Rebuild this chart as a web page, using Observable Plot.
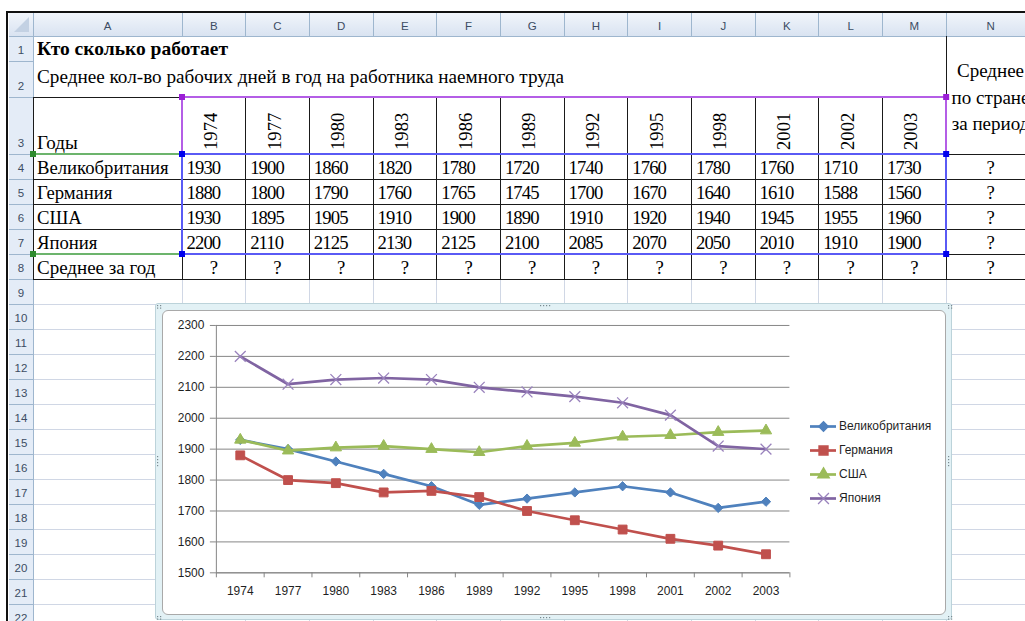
<!DOCTYPE html>
<html><head><meta charset="utf-8">
<script src="https://cdn.jsdelivr.net/npm/d3@7"></script>
<script src="https://cdn.jsdelivr.net/npm/@observablehq/plot@0.6"></script>
<style>
html,body{margin:0;padding:0;background:#fff;}
body{width:1025px;height:621px;overflow:hidden;position:relative;}
#sheet{position:absolute;left:0;top:0;width:1025px;height:621px;}
#chartOuter{position:absolute;left:155px;top:303px;width:797px;height:317px;box-sizing:border-box;background:#e2f1f5;border:1px solid #bcd3da;border-radius:3px;}
#handles{position:absolute;left:0;top:0;width:1025px;height:621px;pointer-events:none;}
#chartInner{position:absolute;left:162px;top:310px;width:784px;height:305px;box-sizing:border-box;background:#fff;border:1px solid #a9a9a9;border-radius:6px;overflow:hidden;}
#chartInner svg{position:absolute;left:0;top:0;}
#legend{position:absolute;left:808px;top:414px;}
</style></head>
<body>
<div id="sheet"></div>
<div id="chartOuter"></div>
<div id="handles"></div>
<div id="chartInner"></div>
<div id="legend"></div>
<script>
// ---------- data ----------
const title = "Кто сколько работает";
const subtitle = "Среднее кол-во рабочих дней в год на работника наемного труда";
const yearHeader = "Годы";
const avgRowLabel = "Среднее за год";
const avgColLabel = ["Среднее", "по стране", "за период"];
const unknown = "?";
const colLetters = ["A","B","C","D","E","F","G","H","I","J","K","L","M","N"];
const years = ["1974","1977","1980","1983","1986","1989","1992","1995","1998","2001","2002","2003"];
const countries = ["Великобритания","Германия","США","Япония"];
const uk      = [1930,1900,1860,1820,1780,1720,1740,1760,1780,1760,1710,1730];
const germany = [1880,1800,1790,1760,1765,1745,1700,1670,1640,1610,1588,1560];
const usa     = [1930,1895,1905,1910,1900,1890,1910,1920,1940,1945,1955,1960];
const japan   = [2200,2110,2125,2130,2125,2100,2085,2070,2050,2010,1910,1900];
const yTicks  = [1500,1600,1700,1800,1900,2000,2100,2200,2300];
const seriesColors = ["#4f81bd","#c0504d","#9bbb59","#8064a2"];
const seriesSymbols = ["diamond2","square","triangle","times"];

const series = [uk, germany, usa, japan];
const rows = countries.flatMap((c, ci) => years.map((y, i) => ({country: c, ci, i, year: y, value: series[ci][i]})));

// ---------- spreadsheet ----------
const W = 1025, H = 621;
const colEdges = [33, 182];
for (let k = 1; k <= 12; k++) colEdges.push(182 + 63.68 * k);
colEdges.push(1035);
const rowTop = r => r === 1 ? 36 : r === 2 ? 61 : r === 3 ? 97 : 154 + 25 * (r - 4);
const rowBot = r => rowTop(r + 1);

const svg = d3.select("#sheet").append("svg").attr("width", W).attr("height", H);
const defs = svg.append("defs");
const g1 = defs.append("linearGradient").attr("id","hdr").attr("x1",0).attr("y1",0).attr("x2",0).attr("y2",1);
g1.append("stop").attr("offset","0").attr("stop-color","#f1f5fb");
g1.append("stop").attr("offset","1").attr("stop-color","#d9e3f1");

function line(x1, y1, x2, y2, color, w = 1) {
  svg.append("line").attr("x1", x1).attr("y1", y1).attr("x2", x2).attr("y2", y2)
    .attr("stroke", color).attr("stroke-width", w).attr("shape-rendering", "crispEdges");
}
function text(str, x, y, opts = {}) {
  const t = svg.append("text").attr("x", x).attr("y", y).text(str)
    .attr("font-family", opts.family || '"Liberation Serif","Times New Roman",serif')
    .attr("font-size", opts.size || 18.7)
    .attr("fill", opts.fill || "#000")
    .attr("text-anchor", opts.anchor || "start");
  if (opts.weight) t.attr("font-weight", opts.weight);
  if (opts.spacing) t.attr("letter-spacing", opts.spacing);
  if (opts.transform) t.attr("transform", opts.transform);
  return t;
}

// header backgrounds
svg.append("rect").attr("x", 9).attr("y", 13).attr("width", W - 9).attr("height", 23).attr("fill", "url(#hdr)");
svg.append("rect").attr("x", 9).attr("y", 36).attr("width", 24).attr("height", H - 36).attr("fill", "#e4ecf7");
svg.append("path").attr("d", "M29,17 L29,32 L14,32 Z").attr("fill", "#c3d1e3");

// light gridlines (row 9 and below)
for (let r = 10; r <= 23; r++) line(33, rowTop(r), W, rowTop(r), "#d0d7e5");
for (let k = 1; k < colEdges.length; k++) line(colEdges[k], rowTop(9), colEdges[k], H, "#d0d7e5");

// header separators
for (let k = 0; k < colEdges.length; k++) line(colEdges[k], 13, colEdges[k], 36, "#9eb6ce");
line(9, 36, W, 36, "#9eb6ce");
for (let r = 2; r <= 23; r++) line(9, rowTop(r), 33, rowTop(r), "#9eb6ce");
line(33, 13, 33, H, "#9eb6ce");

// header labels
colLetters.forEach((c, k) => text(c, (colEdges[k] + colEdges[k + 1]) / 2, 29.5,
  {family: '"Liberation Sans",Arial,sans-serif', size: 11.5, fill: "#3c4c63", anchor: "middle"}));
for (let r = 1; r <= 22; r++) text(String(r), 21, rowBot(r) - 7,
  {family: '"Liberation Sans",Arial,sans-serif', size: 11.5, fill: "#3c4c63", anchor: "middle"});

// table borders
const blk = "#1a1a1a";
line(33, rowTop(3), colEdges[13], rowTop(3), blk);
for (let r = 4; r <= 9; r++) line(33, rowTop(r), W, rowTop(r), blk);
line(33, rowTop(3), 33, rowTop(9), blk);
for (let k = 2; k <= 12; k++) line(colEdges[k], rowTop(3), colEdges[k], rowTop(9), blk);
line(colEdges[1], rowTop(3), colEdges[1], rowTop(9), blk);
line(colEdges[13], 36, colEdges[13], rowTop(9), blk);

// chart-range highlights
const purple = "#b45ee6", blue = "#5a5af5", green = "#6cb46c";
line(colEdges[1], rowTop(3), colEdges[13], rowTop(3), purple, 1.5);
line(colEdges[1], rowTop(3), colEdges[1], rowTop(4), purple, 1.5);
line(colEdges[13], rowTop(3), colEdges[13], rowTop(4), purple, 1.5);
line(colEdges[1], rowTop(4), colEdges[13], rowTop(4), blue, 1.5);
line(colEdges[1], rowTop(8), colEdges[13], rowTop(8), blue, 1.5);
line(colEdges[1], rowTop(4), colEdges[1], rowTop(8), blue, 1.5);
line(colEdges[13], rowTop(4), colEdges[13], rowTop(8), blue, 1.5);
line(33, rowTop(4), colEdges[1], rowTop(4), green, 1.5);
line(33, rowTop(8), colEdges[1], rowTop(8), green, 1.5);
function handle(x, y, c) { svg.append("rect").attr("x", x - 3).attr("y", y - 3).attr("width", 6).attr("height", 6).attr("fill", c); }
handle(colEdges[1], rowTop(3), "#9b1fd6"); handle(colEdges[13], rowTop(3), "#9b1fd6");
handle(colEdges[1], rowTop(4), "#0000ee"); handle(colEdges[13], rowTop(4), "#0000ee");
handle(colEdges[1], rowTop(8), "#0000ee"); handle(colEdges[13], rowTop(8), "#0000ee");
handle(33, rowTop(4), "#2e8b2e"); handle(33, rowTop(8), "#2e8b2e");

// screenshot frame
line(6, 12, W, 12, "#111", 2);
line(7, 12, 7, H, "#111", 2);

// cell texts
text(title, 37, 55, {weight: "bold", size: 19.5});
text(subtitle, 37, 82.5, {size: 19.2});
text(yearHeader, 37, 149, {size: 19});
years.forEach((y, i) => text(y, colEdges[i + 1] + 35, 150, {transform: `rotate(-90 ${colEdges[i + 1] + 35} 150)`}));
avgColLabel.forEach((s, j) => text(s, 990.5, 77 + 26.5 * j, {anchor: "middle", size: 19}));
countries.forEach((c, ci) => {
  const yb = rowBot(4 + ci) - 5.5;
  text(c, 37, yb);
  series[ci].forEach((v, i) => text(String(v), colEdges[i + 1] + 4.5, yb, {spacing: -0.9}));
  text(unknown, (colEdges[13] + colEdges[14]) / 2, yb, {anchor: "middle"});
});
text(avgRowLabel, 37, rowBot(8) - 5.5, {size: 19});
for (let k = 1; k <= 13; k++) text(unknown, (colEdges[k] + colEdges[k + 1]) / 2, rowBot(8) - 5.5, {anchor: "middle"});

// chart frame grip dots
const hs = d3.select("#handles").append("svg").attr("width", W).attr("height", H);
function dots(x0, y0, dx, dy, n) {
  for (let k = 0; k < n; k++) hs.append("rect").attr("x", x0 + dx * k).attr("y", y0 + dy * k).attr("width", 1.2).attr("height", 1.2).attr("fill", "#7a8a90");
}
dots(540, 305, 3, 0, 4); dots(540, 617, 3, 0, 4);
dots(157, 456, 0, 3, 4); dots(948, 456, 0, 3, 4);
[[157, 305], [948, 305], [157, 616], [948, 616]].forEach(([x, y]) => { dots(x, y, 3, 0, 2); dots(x, y + 2.5, 3, 0, 2); });

// ---------- chart ----------
const font = '"Liberation Sans",Arial,sans-serif';
const chartMarks = [
  Plot.gridY(yTicks, {stroke: "#868686", strokeOpacity: 1}),
  Plot.ruleX([-0.5], {stroke: "#868686"}),
  Plot.ruleY([1500], {stroke: "#868686"}),
  Plot.axisY(yTicks, {tickSize: 6, tickPadding: 6, tickFormat: d => String(d), label: null, stroke: "#868686", fill: "#1f1f1f"}),
  Plot.axisX(d3.range(years.length + 1).map(i => i - 0.5), {tickSize: 5, tickFormat: () => "", label: null, stroke: "#868686"}),
  Plot.axisX(d3.range(years.length), {tickSize: 0, tickPadding: 14, tickFormat: i => years[i], label: null, fill: "#1f1f1f"})
];
countries.forEach((c, ci) => {
  const d = rows.filter(r => r.ci === ci);
  chartMarks.push(Plot.line(d, {x: "i", y: "value", stroke: seriesColors[ci], strokeWidth: 2.7}));
  if (seriesSymbols[ci] === "times")
    chartMarks.push(Plot.dot(d, {x: "i", y: "value", symbol: seriesSymbols[ci], r: 5, stroke: "#9a83bd", strokeWidth: 1.3, fill: "none"}));
  else
    chartMarks.push(Plot.dot(d, {x: "i", y: "value", symbol: seriesSymbols[ci], r: seriesSymbols[ci] === "square" ? 5 : 4.2, fill: seriesColors[ci], stroke: seriesColors[ci], strokeWidth: 1}));
});
const chart = Plot.plot({
  width: 784, height: 304,
  marginLeft: 53, marginRight: 156, marginTop: 14, marginBottom: 42,
  style: {fontFamily: font, fontSize: "12px", background: "transparent", color: "#1f1f1f"},
  x: {domain: [-0.5, years.length - 0.5]},
  y: {domain: [1500, 2300]},
  marks: chartMarks
});
document.getElementById("chartInner").appendChild(chart);

// legend
const legMarks = [
  Plot.ruleY(countries, {y: d => d, x1: 2, x2: 28, stroke: d => seriesColors[countries.indexOf(d)], strokeWidth: 2.7})
];
countries.forEach((c, ci) => {
  if (seriesSymbols[ci] === "times")
    legMarks.push(Plot.dot([c], {x: 15, y: d => d, symbol: seriesSymbols[ci], r: 5, stroke: "#9a83bd", strokeWidth: 1.3, fill: "none"}));
  else
    legMarks.push(Plot.dot([c], {x: 15, y: d => d, symbol: seriesSymbols[ci], r: seriesSymbols[ci] === "square" ? 5 : 4.2, fill: seriesColors[ci], stroke: seriesColors[ci]}));
});
legMarks.push(Plot.text(countries, {x: 30.5, y: d => d, text: d => d, textAnchor: "start", fill: "#1f1f1f"}));
const legend = Plot.plot({
  width: 140, height: 100, margin: 0,
  style: {fontFamily: font, fontSize: "12px", background: "transparent"},
  x: {type: "identity"},
  y: {type: "point", domain: countries, range: [12, 84], padding: 0},
  color: {type: "identity"},
  axis: null,
  marks: legMarks
});
document.getElementById("legend").appendChild(legend);
</script>
</body></html>
